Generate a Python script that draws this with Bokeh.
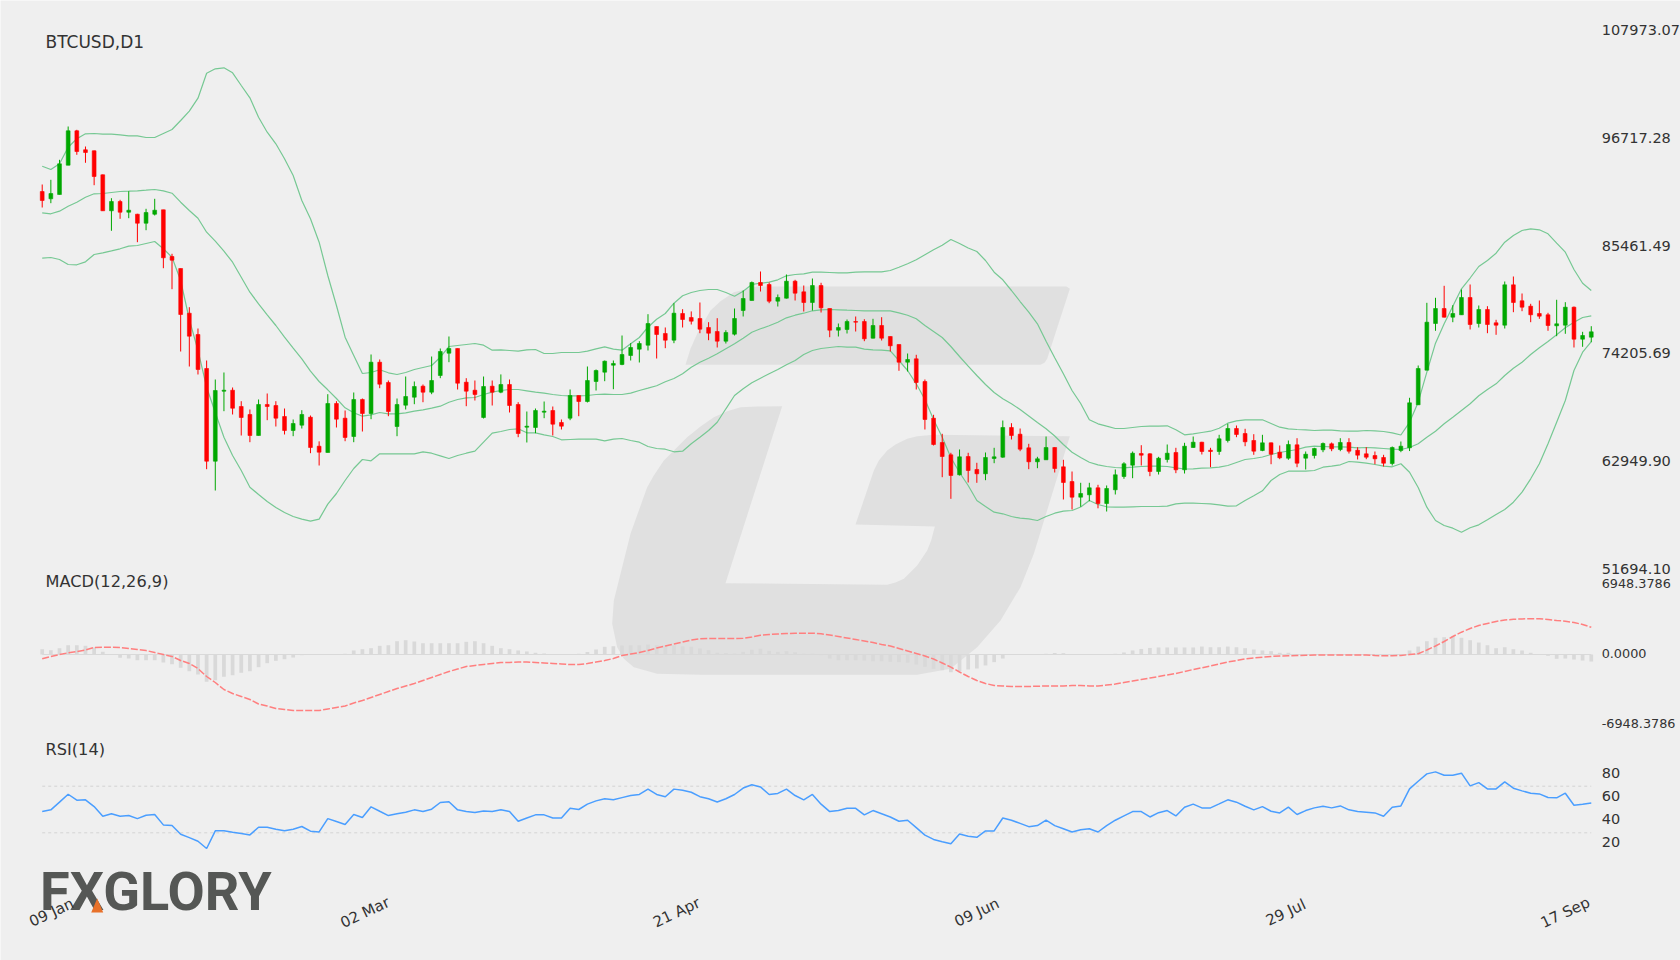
from bokeh.plotting import figure
from bokeh.embed import file_html
from bokeh.resources import INLINE
from bokeh.models import Range1d, ColumnDataSource
from bokeh.core.properties import value

OPEN = [91132,90369,90818,93883,97482,95495,95390,92879,89114,90087,88967,88757,87817,88757,89218,84333,83078,78403,76175,72618,
62922,70244,70348,68643,67807,65610,68853,68748,67597,66133,66688,67525,64490,63832,68957,67420,65505,69376,67911,73278,
71154,66551,68779,69615,70767,70139,71886,74218,74710,71186,70348,67493,70767,70139,70944,68853,66478,66447,68047,68225,
66970,67420,69794,69166,71258,72231,72963,73037,73978,74637,75055,77011,76280,75578,78371,77953,77848,76907,76489,75474,
76206,78685,79731,81613,81405,79658,79970,81750,80640,79522,81300,78894,76625,76698,77534,77534,75788,77116,75966,75129,
73277,73632,71258,67420,64878,63592,61500,63413,62054,61605,63204,63341,66447,65746,64323,62859,63068,64355,62336,60798,
59157,59407,60140,58497,59931,61321,62503,63727,63696,61845,63100,63832,62022,64355,64910,64072,63936,65087,66342,65819,
65087,64041,64846,63863,63235,64637,63235,63518,64113,64742,64146,64878,64072,63696,63518,63309,62681,64041,64323,68821,
72441,77325,78894,77985,78236,80045,77325,78790,77398,77148,81372,79700,79135,78371,78236,77084,77148,79030,75684,75893]
CLOSE = [90191,90923,94030,97482,95316,95212,92701,89114,90087,88967,89176,87817,88936,89176,84198,83947,78266,76001,72514,62922,
70317,70348,68465,67493,65610,68853,68643,67420,66133,66865,67807,64355,63863,68957,67316,65401,69376,67911,73278,70976,
68120,68853,69689,70735,70139,71363,74396,74710,71080,70244,69899,70735,70139,70944,68748,65819,66583,68225,68152,66793,
66583,69794,69166,71363,72409,73383,73141,74083,74815,75233,77325,76175,75578,78403,77744,77566,76730,76310,75474,76384,
77848,79941,81613,81300,79658,80045,81750,80495,79522,81300,78967,76625,76907,77534,77460,75725,77116,75788,74992,73277,
73560,71154,67284,64669,63413,61426,63382,61949,61605,63309,63382,66447,65610,64177,62859,63173,64355,62158,60694,59157,
59543,60140,58497,60066,61500,62650,63759,63550,61845,63235,63759,62022,64490,64910,63936,63936,65265,66342,65715,64951,
63968,64846,63655,63277,64669,62712,63655,64250,64773,64219,64878,63968,63550,63340,63172,62712,64355,64490,69030,72618,
77461,78894,77985,78371,80045,77220,78790,77220,77148,81372,79522,79031,78236,78089,77116,77293,79030,75684,76070,76457]
HIGH = [91865,92356,94448,97931,97586,95839,95421,92911,90432,90264,91164,88799,89323,90369,89218,84616,83078,79030,76802,73455,
71467,72200,70631,69198,68330,69376,70003,69198,68434,67284,68257,67702,65000,69930,69198,68225,70108,69480,74083,73560,
71363,69480,71781,71258,70944,73873,74710,75966,74710,71604,71363,71781,71363,72000,71467,69093,68120,68434,69166,68643,
67284,70422,69794,72827,72514,73455,73455,76070,75265,75474,78298,77011,76907,79448,78822,78590,79522,77461,77880,76624,
78894,80777,81718,82765,81613,80359,82451,81896,81300,82032,81583,78894,77325,77743,78057,77775,77817,77985,75966,75129,
74187,74052,71467,67776,65788,63802,64146,63802,62755,63832,64323,67179,66897,66342,64742,63382,65505,64386,63068,61844,
60663,60663,60453,60383,62054,62818,63936,64596,63759,63382,64669,64323,64846,65505,64951,64323,65683,66833,66656,66312,
65746,65683,64878,64564,65087,65327,63936,64323,64878,64878,65327,65327,64386,64386,63936,63590,64460,64982,69554,72932,
79490,80014,81268,79239,80881,81405,79208,79135,77712,81718,82241,80464,79386,79731,78444,79805,79554,79103,76457,77043]
LOW = [89459,89909,90818,93883,94971,94135,91791,89114,87022,88277,88340,85829,87084,88622,83109,80913,74396,72827,71991,62086,
59857,68152,67807,65610,64910,65610,67212,66551,65715,65538,66342,63760,62472,63832,66447,65013,64910,66028,67316,70558,
67629,65538,68330,68884,69092,69930,71604,73278,70422,68675,69271,67388,68748,70034,68016,65432,64878,65850,67420,65610,
66238,67212,67629,69062,70317,71290,70452,72963,73455,73246,74501,73664,74743,75265,76907,77220,76310,75578,74815,75233,
76070,78058,79731,80672,79449,79103,79940,79731,78580,78685,78475,75892,75966,76280,76488,75474,75756,75547,74396,72377,
72304,70422,66238,64564,61249,58987,61426,60694,60662,60935,62712,63277,65192,63968,62086,62190,63068,61740,58916,57870,
58153,58738,57995,57660,59439,61080,61144,62472,61353,61530,62786,61668,61635,64323,63623,62295,63592,64878,65432,64490,
63592,63968,62607,63131,63068,62295,62054,63204,63863,63968,63968,63727,63100,63131,62607,62367,62472,63863,63983,68821,
72441,76563,77953,77461,78236,76698,76907,76310,76143,76802,78508,78612,77461,77816,76563,75998,76249,74815,74887,75369]

BB_UPPER = [93779,93434,94030,95766,96645,97168,97199,97126,97126,97063,96959,96959,96781,96781,97199,97618,98559,99532,100892,103507,
103967,104071,103548,102220,100934,98904,97335,96122,94553,92806,90191,88277,85829,82346,79208,75892,73978,72095,72200,72482,
72169,71991,72200,72514,72723,72932,73800,74919,75024,75129,75233,75055,74533,74574,74501,74428,74574,74606,74187,74187,
74292,74292,74292,74428,74679,74888,74637,74533,75202,75861,76938,77775,78371,79448,80223,80568,80777,80881,80881,80568,
80181,80704,81405,81541,81645,81896,82315,82451,82524,82692,82692,82660,82628,82628,82692,82733,82733,82733,82869,83215,
83570,83988,84512,85035,85515,86112,85693,85222,84856,83915,82692,81896,80777,79626,78507,77294,75474,73738,72063,70317,
68957,67252,66834,66583,66342,66342,66447,66551,66583,66583,66625,66207,65684,65788,65924,66060,66374,66897,67147,67252,
67252,67252,66865,66478,66311,66238,66207,66133,66165,66165,66102,66060,66060,66133,66102,66028,65892,65662,66990,69093,
72231,75265,77294,79135,80955,82084,83287,83915,84678,85829,86530,87053,87231,87126,86708,85724,84783,82974,81541,80777]
BB_MIDDLE = [88904,88800,89072,89595,90013,90536,90892,90923,91028,91132,91164,91205,91268,91342,91205,90954,90013,89145,88339,86875,
85934,84887,83737,82168,80599,79386,78235,77116,75892,74741,73633,72336,71258,70390,69480,68508,67985,67629,67775,68016,
67880,67880,67985,68152,68299,68466,68675,69093,69376,69553,69585,69899,70139,70317,70422,70422,70286,70139,70035,69899,
69794,69762,69762,69794,69899,69930,69899,69899,70035,70317,70558,70809,71227,71572,72064,72754,73277,73696,74156,74679,
75202,75787,76415,76771,77085,77461,77921,78193,78402,78654,78758,78790,78758,78717,78685,78654,78654,78654,78654,78444,
78193,77817,77116,76489,75861,74920,73874,72859,71886,70945,70108,69449,68926,68330,67650,66970,66310,65558,64669,63864,
63309,62817,62545,62367,62263,62231,62294,62367,62398,62398,62367,62231,62106,62127,62190,62231,62294,62472,62786,63100,
63204,63362,63623,63832,63990,64146,64386,64491,64459,64428,64428,64386,64324,64355,64324,64250,64177,64146,64355,64742,
65432,66060,66834,67524,68225,68926,69762,70422,71017,71886,72650,73277,74083,74783,75442,76143,76875,77461,77953,78131]
BB_LOWER = [84155,84228,84020,83496,83465,83778,84543,84721,84929,85139,85411,85484,85693,85902,85139,84260,81823,77744,74501,70662,
68016,65432,63518,61949,60203,59439,58706,58079,57556,57137,56865,56645,56865,58434,59543,60903,62158,63100,62963,63696,
63696,63696,63696,63696,63905,63758,63486,63204,63518,63758,63968,64910,65850,66028,66238,66310,65892,65892,65683,65505,
65160,65192,65223,65223,65223,65056,65223,65296,65087,64910,64460,64250,64177,63905,63968,64742,65432,66133,67001,68403,
69794,70494,71122,71604,72064,72514,73006,73455,74083,74501,74710,74815,74919,74846,74846,74637,74574,74533,74470,73455,
72409,71018,69376,67284,65432,63309,61740,60380,58811,58183,57586,57420,57137,56960,56896,56719,57137,57482,57692,57765,
58130,58811,58393,58153,58111,58111,58153,58184,58184,58184,58215,58466,58530,58530,58497,58466,58362,58215,58257,58811,
59303,59826,60903,61531,61875,61875,61875,61949,62294,62398,62545,62890,62817,62713,62577,62398,62336,62650,61770,60171,
58111,56719,56196,55914,55496,55956,56268,56791,57347,57870,58634,59680,61080,62650,64742,67001,69271,72409,74322,75442]

MACD_LINE = [-427,-199,0,169,298,447,695,715,715,695,596,497,397,199,0,-199,-596,-894,-1390,-2185,
-2780,-3476,-3873,-4171,-4469,-4915,-5114,-5362,-5462,-5561,-5561,-5561,-5561,-5412,-5263,-5114,-4816,-4568,-4270,-3972,
-3674,-3376,-3128,-2880,-2582,-2284,-1986,-1688,-1440,-1192,-1092,-993,-894,-794,-794,-745,-745,-794,-844,-894,
-943,-993,-993,-894,-745,-596,-397,-99,50,199,397,645,844,1043,1241,1440,1559,1589,1589,1589,
1589,1619,1738,1916,1986,2036,2085,2115,2115,2115,2056,1936,1787,1638,1490,1341,1192,993,844,596,
348,99,-149,-447,-844,-1261,-1738,-2185,-2582,-2880,-3078,-3128,-3178,-3178,-3178,-3148,-3128,-3128,-3128,-3078,
-3078,-3128,-3128,-3029,-2929,-2780,-2631,-2483,-2334,-2185,-2036,-1887,-1688,-1490,-1321,-1142,-943,-745,-596,-447,
-348,-278,-199,-149,-119,-99,-79,-60,-50,-50,-40,-40,-40,-40,-99,-129,-129,-99,0,70,
447,844,1291,1787,2214,2582,2880,3078,3277,3426,3495,3535,3545,3545,3476,3376,3307,3178,2979,2701]
MACD_HIST = [530,430,630,920,920,860,700,270,0,-330,-400,-570,-570,-570,-790,-960,-1320,-1660,-1990,-2710,
-2550,-2210,-2060,-1820,-1660,-1260,-860,-630,-470,-300,-70,-30,0,30,30,70,400,530,630,860,
920,1320,1420,1290,1120,1120,1120,1120,1120,1260,1320,1120,860,630,530,400,300,170,100,50,
30,-30,70,250,500,760,820,890,920,920,990,920,920,920,820,760,600,430,170,130,
100,270,470,570,370,270,330,230,70,70,-70,-400,-570,-570,-570,-600,-670,-670,-720,-760,
-820,-990,-1220,-1420,-1560,-1760,-1660,-1490,-1390,-1090,-760,-400,-30,0,30,30,70,150,130,50,
30,10,10,20,70,200,400,550,650,700,700,700,700,700,790,720,720,790,720,630,
500,400,330,170,170,30,20,20,20,20,20,30,30,30,20,20,20,20,400,790,
1320,1660,1720,1820,1660,1420,1190,920,630,720,530,400,170,0,-130,-430,-400,-500,-600,-700]
RSI = [48.3,49.7,56.3,63.1,58,58.3,52.5,44.2,46.3,44.2,44.8,42.2,45.1,45.7,36.8,36.2,28.8,25.9,22.8,16.5,
31.7,31.7,30.5,29.4,28.2,34.8,34.8,33.1,31.7,33.1,35.4,31.4,30.8,42.2,39.7,37.1,45.7,43.1,52.3,48.5,
44.8,46.3,47.7,49.7,48.3,50.3,56,56.6,49.7,48.3,47.4,48.8,48.3,49.7,48.2,39.9,42.7,45.4,45.4,42.7,
42.7,51,50,54.6,57.4,59.2,58.3,60.2,62,62.9,67.5,62.9,61,67.5,66.6,64.8,61,59.2,56.5,59.2,
62.9,68.4,71.2,69.4,62.9,63.8,67.5,62,58.3,62.9,54.6,48.2,49.1,51,51,45.4,49.1,46.4,43.6,39.9,
40.8,34.4,28,24.3,22.4,20.6,28.9,27,26.1,31.6,31.6,42.7,40.8,38.1,35.3,36.2,40.8,36.2,33.5,30.7,
32.6,33.5,30.7,36.2,40.8,44.5,48.2,48.2,43.6,47.3,49.1,44.5,51.9,54.6,51.4,51.4,54.8,58.3,56.3,52.8,
49.7,52.5,48.5,47.1,52,45.7,49.1,51.4,52.8,51.4,53.1,49.7,48.3,47.7,47.1,44.2,52,53.1,67.7,74.3,
80.6,82.3,79.4,79.4,81.2,70.3,73.1,67.7,67.7,73.7,68.3,66,64,63.4,60.3,60,64,53.7,54.6,55.6]

PRICE_TICKS = [107973.07,96717.28,85461.49,74205.69,62949.90,51694.10]
MACD_TICKS = [6948.3786,0.0,-6948.3786]
RSI_TICKS = [80,60,40,20]
RSI_LEVELS = [70,30]
DATE_LABELS = ["09 Jan","02 Mar","21 Apr","09 Jun","29 Jul","17 Sep"]
DATE_POS = [1.07,37.3,73.3,108.0,143.7,176.0]

BG = "#efefef"
TXT = "#333333"
N = len(OPEN)
xs = list(range(N))

p = figure(width=1680, height=960, output_backend="svg", toolbar_location=None,
           x_axis_location=None, y_axis_location=None, min_border=0,
           x_range=Range1d(-4.819, 189.31), y_range=Range1d(10695, 111111),
           background_fill_color=BG, border_fill_color=BG, outline_line_color=None)
p.grid.visible = False
p.extra_y_ranges = {"macd": Range1d(-30386, 64942), "rsi": Range1d(-79.6, 744.4)}

# page-pixel helpers for the decoration only (watermark and logo)
def wx(px): return (px - 41.7) / 8.654
def wy(py): return 111111 - 104.6 * py
def wm(zx): return wx(600 + zx / 3)
def wn(zy): return wy(270 + zy / 3)

bar_pts = [(255,283),(270,235),(290,190),(330,120),(360,92),(400,65),(470,48),(1398,48),(1408,55),(1340,265),(1332,277),(1320,283)]
body_pts = [(545,407),(470,408),(420,410),(380,422),(340,440),(300,468),(260,500),(220,540),(190,570),(160,615),(140,650),(115,720),(90,790),(40,990),(35,1060),(50,1130),
            (70,1165),(100,1190),(170,1210),(300,1213),(950,1213),(1050,1195),(1130,1130),(1200,1050),(1260,950),(1300,850),
            (1408,497),(1000,493),(950,497),(920,505),(885,522),(860,540),(835,570),(820,600),(765,762),(1003,768),(992,810),(980,840),(950,885),(910,925),(885,936),
            (860,943),(375,938)]
for pts in (bar_pts, body_pts):
    p.patch([wm(a) for a, _ in pts], [wn(b) for _, b in pts], fill_color="#e0e0e0", line_color=None)

# Bollinger bands
for band in (BB_UPPER, BB_MIDDLE, BB_LOWER):
    p.line(xs, band, line_color="#76c893", line_width=1.2)

# candles
colors = ["#00a800" if c >= o else "#ff0000" for o, c in zip(OPEN, CLOSE)]
src = ColumnDataSource(dict(x=xs, open=OPEN, close=CLOSE, high=HIGH, low=LOW, color=colors,
                            top=[max(o, c) for o, c in zip(OPEN, CLOSE)],
                            bottom=[min(o, c) for o, c in zip(OPEN, CLOSE)]))
p.segment("x", "high", "x", "low", source=src, line_color="color", line_width=1)
p.vbar("x", top="top", bottom="bottom", width=0.44, source=src, fill_color="color", line_color="color", line_width=0.6)

# MACD
p.vbar(xs, top=MACD_HIST, bottom=0, width=0.43, fill_color="#d9d9d9", line_color=None, y_range_name="macd")
p.line([0, N - 1], [0, 0], line_color="#d9d9d9", line_width=1, y_range_name="macd")
p.line(xs, MACD_LINE, line_color="#ff7f7f", line_width=1.5, line_dash="7 2", y_range_name="macd")

# RSI
for lvl in RSI_LEVELS:
    p.line([0, N - 1], [lvl, lvl], line_color="#d4d4d4", line_width=1, line_dash="3 3", y_range_name="rsi")
p.line(xs, RSI, line_color="#4a9eff", line_width=1.5, y_range_name="rsi")

# tick labels
TX = 180.2
p.text([TX] * len(PRICE_TICKS), PRICE_TICKS, text=["%.2f" % v for v in PRICE_TICKS],
       text_font=value("DejaVu Sans"), text_font_size="14.5px", text_color=TXT,
       text_align="left", text_baseline="middle")
p.text([TX] * len(MACD_TICKS), MACD_TICKS, text=["%.4f" % v for v in MACD_TICKS],
       text_font=value("DejaVu Sans"), text_font_size="12.8px", text_color=TXT,
       text_align="left", text_baseline="middle", y_range_name="macd", y_offset=-1)
p.text([TX] * len(RSI_TICKS), RSI_TICKS, text=[str(v) for v in RSI_TICKS],
       text_font=value("DejaVu Sans"), text_font_size="14.5px", text_color=TXT,
       text_align="left", text_baseline="middle", y_range_name="rsi", y_offset=-2)

# logo
p.text([wx(39.5)], [wy(891)], text=["FXGLORY"], text_font=value("Roboto"), text_font_style="bold",
       text_font_size="54px", text_color="#555755", text_align="left", text_baseline="middle")
p.patch([wx(90.7), wx(96.7), wx(102.7)], [wy(912), wy(898), wy(912)], fill_color="#e8712a", line_color=None)

# date labels
p.text(DATE_POS, [wy(912)] * len(DATE_POS), text=DATE_LABELS, text_font=value("DejaVu Sans"),
       text_font_size="15px", text_color=TXT, text_align="center", text_baseline="middle", angle=0.44)

# panel titles
p.text([wx(45)], [wy(41)], text=["BTCUSD,D1"], text_font=value("DejaVu Sans"), text_font_size="17px",
       text_color=TXT, text_align="left", text_baseline="middle")
p.text([wx(45)] * 2, [wy(580.6), wy(748.7)], text=["MACD(12,26,9)", "RSI(14)"],
       text_font=value("DejaVu Sans"), text_font_size="16.2px", text_color=TXT,
       text_align="left", text_baseline="middle")

open("out.html", "w").write(file_html(p, INLINE))
